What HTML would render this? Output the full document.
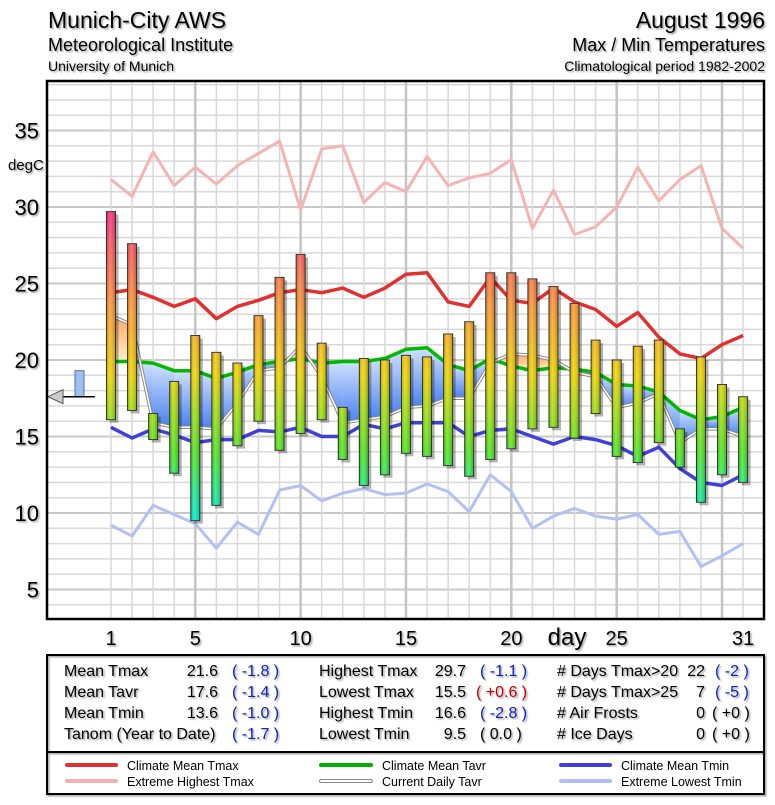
<!DOCTYPE html>
<html><head><meta charset="utf-8">
<style>
body{margin:0;background:#fff;width:775px;height:800px;overflow:hidden;font-family:"Liberation Sans",sans-serif;}
svg text{font-family:"Liberation Sans",sans-serif;}
</style></head>
<body>
<svg id="chart" width="775" height="800" viewBox="0 0 775 800">
<defs>
<linearGradient id="barGrad" gradientUnits="userSpaceOnUse" x1="0" y1="207" x2="0" y2="513">
<stop offset="0" stop-color="#ff2a80"/><stop offset="0.33" stop-color="#ff9a30"/><stop offset="0.55" stop-color="#f0d800"/><stop offset="0.8" stop-color="#50e820"/><stop offset="1" stop-color="#00f0c0"/>
</linearGradient>
<linearGradient id="blueFill" x1="0" y1="0" x2="0" y2="1"><stop offset="0" stop-color="#cfe2ff"/><stop offset="1" stop-color="#4a80f0"/></linearGradient>
<linearGradient id="orangeFill" x1="0" y1="0" x2="0" y2="1"><stop offset="0" stop-color="#ffa860"/><stop offset="1" stop-color="#fff0d0"/></linearGradient>
<linearGradient id="shine" x1="0" y1="0" x2="1" y2="0"><stop offset="0" stop-color="#000" stop-opacity="0.15"/><stop offset="0.4" stop-color="#fff" stop-opacity="0.15"/><stop offset="1" stop-color="#000" stop-opacity="0.2"/></linearGradient>
<filter id="ts"><feDropShadow dx="1.5" dy="1.5" stdDeviation="0.8" flood-color="#000" flood-opacity="0.35"/></filter>
</defs>
<g id="header" filter="url(#ts)">
<text x="48" y="28" font-size="23">Munich-City AWS</text>
<text x="48" y="51" font-size="18">Meteorological Institute</text>
<text x="48" y="71" font-size="14">University of Munich</text>
<text x="765" y="28" font-size="23" text-anchor="end">August 1996</text>
<text x="765" y="51" font-size="18" text-anchor="end">Max / Min Temperatures</text>
<text x="765" y="71" font-size="14" text-anchor="end">Climatological period 1982-2002</text>
</g>
<g id="grid"></g>
<g id="fills"></g>
<g id="lines"></g>
<g id="bars"></g>
<rect x="47" y="81" width="717" height="538" fill="none" stroke="#000" stroke-width="2.5"/>
<g id="axes" filter="url(#ts)"></g>
<g id="stats" font-size="16" filter="url(#ts)">
<rect x="47" y="655" width="717" height="139" fill="none" stroke="#000" stroke-width="2"/>
<line x1="47" y1="752" x2="764" y2="752" stroke="#000" stroke-width="2"/>
<text x="64" y="676">Mean Tmax</text><text x="218" y="676" text-anchor="end">21.6</text><text x="232" y="676" fill="#1020c0">( -1.8 )</text>
<text x="64" y="697">Mean Tavr</text><text x="218" y="697" text-anchor="end">17.6</text><text x="232" y="697" fill="#1020c0">( -1.4 )</text>
<text x="64" y="718">Mean Tmin</text><text x="218" y="718" text-anchor="end">13.6</text><text x="232" y="718" fill="#1020c0">( -1.0 )</text>
<text x="64" y="739">Tanom (Year to Date)</text><text x="232" y="739" fill="#1020c0">( -1.7 )</text>
<text x="319" y="676">Highest Tmax</text><text x="466" y="676" text-anchor="end">29.7</text><text x="480" y="676" fill="#1020c0">( -1.1 )</text>
<text x="319" y="697">Lowest Tmax</text><text x="466" y="697" text-anchor="end">15.5</text><text x="476" y="697" fill="#c00000">( +0.6 )</text>
<text x="319" y="718">Highest Tmin</text><text x="466" y="718" text-anchor="end">16.6</text><text x="480" y="718" fill="#1020c0">( -2.8 )</text>
<text x="319" y="739">Lowest Tmin</text><text x="466" y="739" text-anchor="end">9.5</text><text x="480" y="739">(  0.0 )</text>
<text x="557" y="676"># Days Tmax&gt;20</text><text x="705" y="676" text-anchor="end">22</text><text x="715" y="676" fill="#1020c0">( -2 )</text>
<text x="557" y="697"># Days Tmax&gt;25</text><text x="705" y="697" text-anchor="end">7</text><text x="715" y="697" fill="#1020c0">( -5 )</text>
<text x="557" y="718"># Air Frosts</text><text x="705" y="718" text-anchor="end">0</text><text x="712" y="718">( +0 )</text>
<text x="557" y="739"># Ice Days</text><text x="705" y="739" text-anchor="end">0</text><text x="712" y="739">( +0 )</text>
</g>
<g id="legend" font-size="12.5">
<g><line x1="67" y1="765" x2="116" y2="765" stroke="#e03030" stroke-width="4" stroke-linecap="round"/><text x="127" y="770">Climate Mean Tmax</text></g>
<g><line x1="67" y1="781" x2="116" y2="781" stroke="#f5b0b0" stroke-width="4" stroke-linecap="round"/><text x="127" y="786">Extreme Highest Tmax</text></g>
<g><line x1="321" y1="765" x2="371" y2="765" stroke="#00b000" stroke-width="4" stroke-linecap="round"/><text x="382" y="770">Climate Mean Tavr</text></g>
<g><line x1="321" y1="781" x2="371" y2="781" stroke="#888" stroke-width="4" stroke-linecap="round"/><line x1="321" y1="781" x2="371" y2="781" stroke="#fff" stroke-width="2" stroke-linecap="round"/><text x="382" y="786">Current Daily Tavr</text></g>
<g><line x1="561" y1="765" x2="610" y2="765" stroke="#4040d8" stroke-width="4" stroke-linecap="round"/><text x="621" y="770">Climate Mean Tmin</text></g>
<g><line x1="561" y1="781" x2="610" y2="781" stroke="#b0bef0" stroke-width="4" stroke-linecap="round"/><text x="621" y="786">Extreme Lowest Tmin</text></g>
</g>
</svg>
<script>
const days = [1,2,3,4,5,6,7,8,9,10,11,12,13,14,15,16,17,18,19,20,21,22,23,24,25,26,27,28,29,30,31];
const tmax = [29.7,27.6,16.5,18.6,21.6,20.5,19.8,22.9,25.4,26.9,21.1,16.9,20.1,20.0,20.3,20.2,21.7,22.5,25.7,25.7,25.3,24.8,23.7,21.3,20.0,20.9,21.3,15.5,20.2,18.4,17.6];
const tmin = [16.1,16.7,14.8,12.6,9.5,10.5,14.4,16.0,14.1,15.2,16.1,13.5,11.8,12.5,13.9,13.7,13.1,12.4,13.5,14.2,15.5,15.6,14.9,16.5,13.7,13.3,14.6,13.0,10.7,12.5,12.0];
const tavr = [22.9,22.3,15.9,15.6,15.6,15.5,17.2,19.3,19.5,20.9,18.9,15.9,16.1,16.3,16.9,17.0,17.5,17.5,19.8,20.4,20.3,20.0,19.2,18.9,16.9,17.2,17.8,14.6,15.5,15.5,15.0];
const climTmax = [24.4,24.6,24.1,23.5,24.0,22.7,23.5,23.9,24.4,24.6,24.4,24.7,24.1,24.7,25.6,25.7,23.8,23.5,25.4,23.9,23.7,24.7,23.8,23.3,22.2,23.1,21.5,20.4,20.1,21.0,21.6];
const climTavr = [19.9,19.9,19.8,19.3,19.3,18.8,19.2,19.7,19.9,20.1,19.8,19.9,19.9,20.1,20.7,20.8,19.7,19.3,20.1,19.6,19.3,19.5,19.4,19.2,18.4,18.3,17.9,16.7,16.1,16.3,16.9];
const climTmin = [15.6,14.9,15.5,15.1,14.6,14.8,14.8,15.4,15.3,15.6,15.0,15.0,15.8,15.5,15.9,15.9,15.9,15.0,15.4,15.5,15.0,14.5,15.0,14.8,14.4,13.7,14.3,12.9,12.0,11.8,12.5];
const extHigh = [31.8,30.7,33.6,31.4,32.6,31.5,32.7,33.5,34.3,29.8,33.8,34.0,30.3,31.6,31.0,33.3,31.4,31.9,32.2,33.1,28.6,31.1,28.2,28.7,30.0,32.6,30.4,31.8,32.7,28.6,27.3];
const extLow = [9.2,8.5,10.5,9.9,9.3,7.7,9.4,8.6,11.5,11.8,10.8,11.3,11.6,11.2,11.3,11.9,11.4,10.1,12.5,11.4,9.0,9.8,10.3,9.8,9.6,9.9,8.6,8.8,6.5,7.2,8.0];
const yTicks = [5,10,15,20,25,30,35];
const xTicks = [1,5,10,15,20,25,31];
const tanom = -1.7;

const NS = "http://www.w3.org/2000/svg";
const X = d => 111 + (d - 1) * 21.07;
const Y = v => 360 - (v - 20) * 15.3;
function mk(tag, attrs, parent) {
  const e = document.createElementNS(NS, tag);
  for (const k in attrs) e.setAttribute(k, attrs[k]);
  parent.appendChild(e);
  return e;
}
const grid = document.getElementById('grid');
for (let v = 4; v <= 38; v++) {
  const l = mk('line', {x1: 48, x2: 763, y1: Y(v), y2: Y(v), stroke: v % 5 === 0 ? '#c8c8c8' : '#d8d8d8', 'stroke-width': v % 5 === 0 ? 2 : 1.5}, grid);
  
  
}
for (const d of days) {
  const l = mk('line', {x1: X(d), x2: X(d), y1: 82, y2: 618, stroke: d % 5 === 0 ? '#c4c4c4' : '#d8d8d8', 'stroke-width': d % 5 === 0 ? 2.5 : 1.5}, grid);
  
  
}
const fills = document.getElementById('fills');
for (let i = 0; i < days.length - 1; i++) {
  const x0 = X(days[i]), x1 = X(days[i + 1]);
  const a0 = tavr[i] - climTavr[i], a1 = tavr[i + 1] - climTavr[i + 1];
  const seg = (xa, xb, ta, tb, ca, cb, pos) => {
    const p = mk('polygon', {points: `${xa},${Y(ca)} ${xb},${Y(cb)} ${xb},${Y(tb)} ${xa},${Y(ta)}`, fill: pos ? 'url(#orangeFill)' : 'url(#blueFill)'}, fills);
    
    
  };
  if (a0 * a1 >= 0) seg(x0, x1, tavr[i], tavr[i + 1], climTavr[i], climTavr[i + 1], a0 + a1 > 0);
  else {
    const f = a0 / (a0 - a1), xm = x0 + f * (x1 - x0), vm = climTavr[i] + f * (climTavr[i + 1] - climTavr[i]);
    seg(x0, xm, tavr[i], vm, climTavr[i], vm, a0 > 0);
    seg(xm, x1, vm, tavr[i + 1], vm, climTavr[i + 1], a1 > 0);
  }
}
const lines = document.getElementById('lines');
function series(vals, color, w, name) {
  const pts = days.map((d, i) => `${X(d).toFixed(1)},${Y(vals[i]).toFixed(1)}`).join(' ');
  const p = mk('polyline', {points: pts, fill: 'none', stroke: color, 'stroke-width': w, 'stroke-linejoin': 'round'}, lines);
  
  
  return p;
}
series(extHigh, '#f5b4b4', 3, 'extreme-highest-tmax-line');
series(extLow, '#b4c0f2', 3, 'extreme-lowest-tmin-line');
series(climTmax, '#e03030', 3.5, 'climate-mean-tmax-line');
series(climTmin, '#4040d8', 3.5, 'climate-mean-tmin-line');
series(climTavr, '#00b800', 3.5, 'climate-mean-tavr-line');
series(tavr, '#888', 3.5, 'current-tavr-outline');
series(tavr, '#fff', 1.5, 'current-daily-tavr-line');
const bars = document.getElementById('bars');
days.forEach((d, i) => {
  const x = X(d) - 4.5, y0 = Y(tmax[i]), y1 = Y(tmin[i]);
  const s = mk('rect', {x: x + 3, y: y0 + 3, width: 9, height: y1 - y0, fill: '#000', opacity: 0.3}, bars);
  
  
  const r = mk('rect', {x: x, y: y0, width: 9, height: y1 - y0, fill: 'url(#barGrad)', stroke: '#333', 'stroke-width': 1}, bars);
  
  
  const h = mk('rect', {x: x, y: y0, width: 9, height: y1 - y0, fill: 'url(#shine)'}, bars);
  
  
});
const mY = Y(17.6), mT = Y(17.6 - tanom);
const mb = mk('rect', {x: 75, y: mT, width: 9, height: mY - mT, fill: '#9cc0f0', stroke: '#5070a0', 'stroke-width': 1}, bars);


const ml = mk('line', {x1: 62, x2: 95, y1: mY, y2: mY, stroke: '#000', 'stroke-width': 1.5}, bars);


const mt = mk('polygon', {points: `48,${mY} 63,${mY - 7} 63,${mY + 7}`, fill: '#ccc', stroke: '#555', 'stroke-width': 1}, bars);


const axes = document.getElementById('axes');
yTicks.forEach(v => {
  const t = mk('text', {x: 39, y: Y(v) + 8, 'font-size': 22, 'text-anchor': 'end'}, axes);
  t.textContent = v;
  
  
});
const yl = mk('text', {x: 8, y: 170, 'font-size': 15}, axes);
yl.textContent = 'degC';


xTicks.forEach(d => {
  const t = mk('text', {x: X(d), y: 645, 'font-size': 20, 'text-anchor': 'middle'}, axes);
  t.textContent = d;
  
  
});
const xl = mk('text', {x: 567, y: 645, 'font-size': 24, 'text-anchor': 'middle'}, axes);
xl.textContent = 'day';


</script>
</body></html>
